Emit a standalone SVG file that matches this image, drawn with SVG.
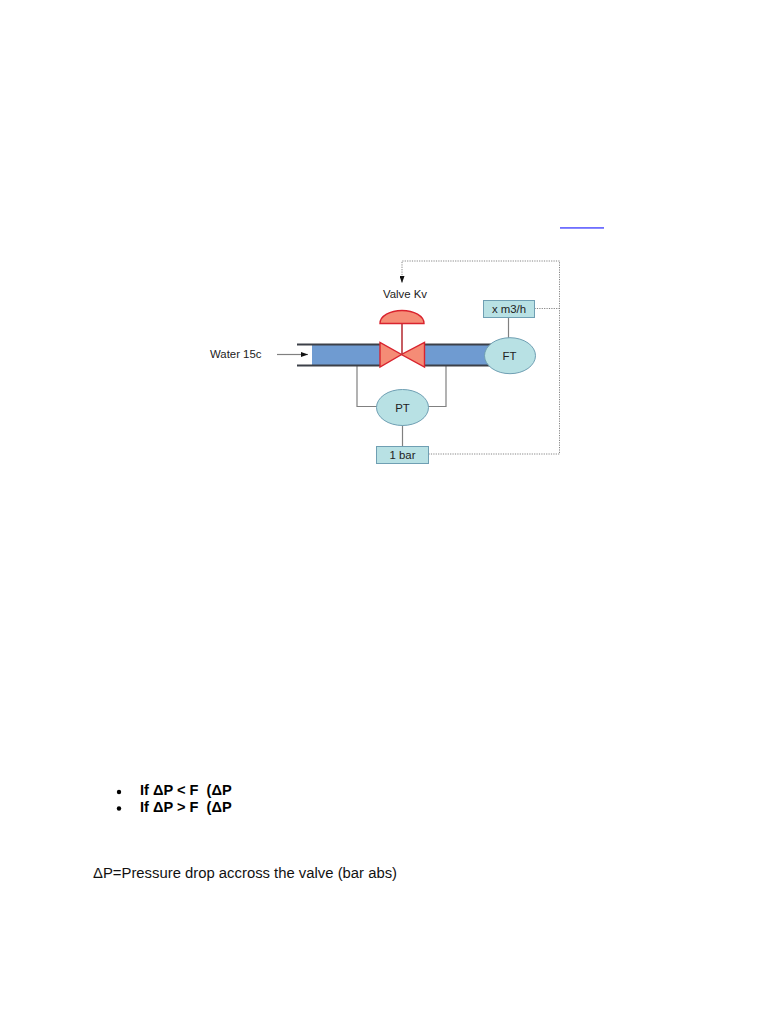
<svg xmlns="http://www.w3.org/2000/svg" width="768" height="1024" viewBox="0 0 768 1024">
<style>
text{font-family:"Liberation Sans",Arial,sans-serif;fill:#111;white-space:pre}
.d{font-size:11.400px;fill:#222}
.b{font-size:14.600px;font-weight:bold;fill:#000}
.c{text-anchor:middle}
.inst{fill:#b8e1e4;stroke:#6f9fb3;stroke-width:1}
.wire{fill:none;stroke:#808080;stroke-width:1.200}
.dot{fill:none;stroke:#777;stroke-width:.9;stroke-dasharray:1.200 1.200}
.pipe{stroke:#3c4048;stroke-width:1.800;fill:none}
.valve{fill:#f58c76;stroke:#d9232e;stroke-width:1.400}
</style>
<defs>
<marker id="a" markerWidth="7" markerHeight="5" refX="7" refY="2.500" orient="auto" markerUnits="userSpaceOnUse"><path d="M0 0L7 2.500L0 5z" fill="#111"/></marker>
</defs>
<rect width="768" height="1024" fill="#fff"/>
<rect x="560" y="227" width="44" height="1.800" fill="#6f6fff"/>
<g id="connectors">
<path class="dot" d="M428.500 454H559.500V261H402V283" marker-end="url(#a)"/>
<path class="dot" d="M534.500 308.500H559.500"/>
<path class="wire" d="M277 354.500H308" marker-end="url(#a)"/>
<path class="wire" d="M357 366V406.500H377"/>
<path class="wire" d="M446 366V406.500H428"/>
<path class="wire" d="M402.500 425V446"/>
<path class="wire" d="M508.500 317.500V338"/>
</g>
<g id="pipe">
<rect x="312" y="345" width="68" height="20" fill="#6f9bd1"/>
<rect x="424" y="345" width="68" height="20" fill="#6f9bd1"/>
<path class="pipe" d="M297 344.500H380M297 365.500H380M424 344.500H492M424 365.500H492"/>
</g>
<g id="valve">
<path class="valve" d="M380 342.500V367L401.500 354.500z"/>
<path class="valve" d="M424.500 342.500V367L401.500 354.500z"/>
<path d="M402 324V354.500" stroke="#b8353c" stroke-width="1.600" fill="none"/>
<path class="valve" d="M380 323.500C380 316 390 310.500 402 310.500C414 310.500 424 316 424 323.500z"/>
<text class="d c" x="405" y="298">Valve Kv</text>
</g>
<g id="water"><text class="d" x="210" y="358">Water 15c</text></g>
<g id="ft"><ellipse class="inst" cx="510" cy="355.700" rx="25.500" ry="18"/><text class="d c" x="509.500" y="359.500">FT</text></g>
<g id="pt"><ellipse class="inst" cx="402.500" cy="407.500" rx="26" ry="18"/><text class="d c" x="402.500" y="411.500">PT</text></g>
<g id="flow"><rect class="inst" x="483.500" y="300.500" width="51" height="17"/><text class="d c" x="509" y="313">x m3/h</text></g>
<g id="pressure"><rect class="inst" x="376.500" y="446.500" width="52" height="17"/><text class="d c" x="402.500" y="459">1 bar</text></g>
<g id="notes">
<circle cx="119" cy="792" r="2.200" fill="#000"/>
<circle cx="119" cy="808.500" r="2.200" fill="#000"/>
<text class="b" x="140" y="795">If ΔP &lt; F  (ΔP</text>
<text class="b" x="140" y="812">If ΔP &gt; F  (ΔP</text>
<text x="93" y="877.500" font-size="14.850" fill="#111">ΔP=Pressure drop accross the valve (bar abs)</text>
</g>
</svg>
